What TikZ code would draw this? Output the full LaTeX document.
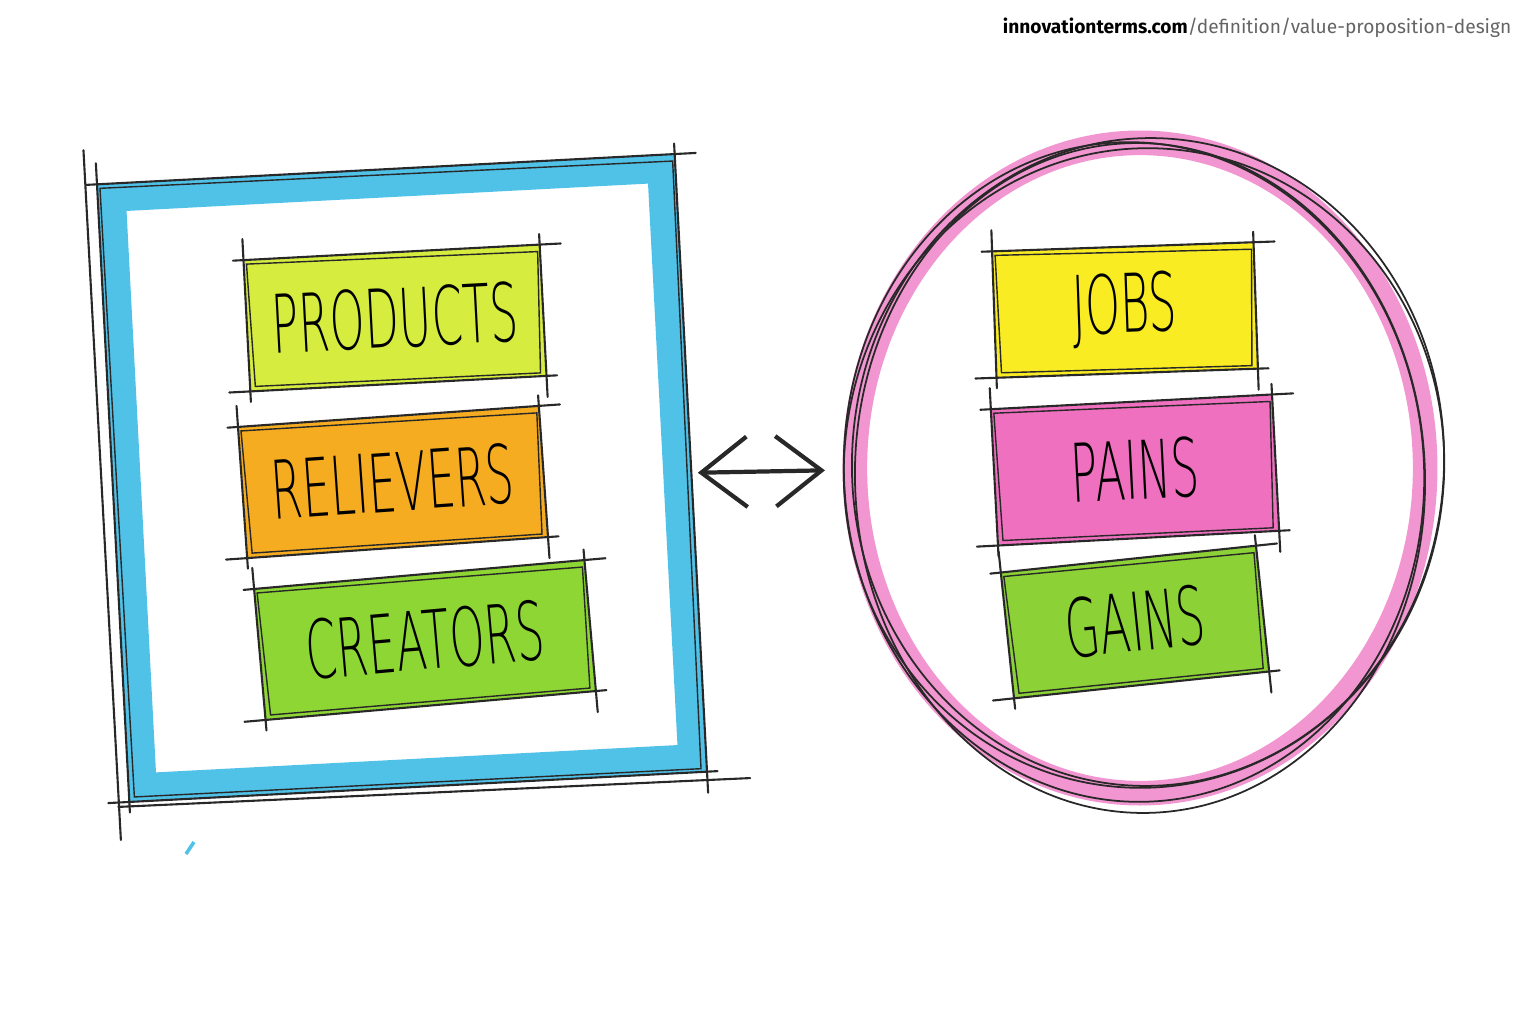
\documentclass[tikz,border=0pt]{standalone}
\usepackage{fontspec}
\setmainfont{Fira Sans}
\newfontfamily\handfont{DejaVu Sans ExtraLight}
\usepackage{graphicx}
\usetikzlibrary{positioning,arrows.meta,shapes.geometric}

\definecolor{frameblue}{RGB}{80,194,232}
\definecolor{ringpink}{RGB}{241,150,208}
\definecolor{prodgreen}{RGB}{214,236,62}
\definecolor{relorange}{RGB}{246,172,32}
\definecolor{creagreen}{RGB}{142,214,52}
\definecolor{jobyellow}{RGB}{250,236,34}
\definecolor{painpink}{RGB}{240,112,192}
\definecolor{gaingreen}{RGB}{140,210,54}
\definecolor{inkgray}{RGB}{40,40,40}
\definecolor{urlgray}{RGB}{100,100,100}

\tikzset{
	ink/.style = {draw=inkgray, line width=.6pt, line cap=round},
	card/.style = {rectangle, inner sep=0pt, minimum height=1.3cm,
		font=\handfont\fontsize{23}{23}\selectfont},
	pointer/.style = {draw=inkgray, line width=1.2pt,
		{Straight Barb[length=13pt,width=20pt]}-{Straight Barb[length=13pt,width=20pt]}}
}

% handwritten looking letters
\newcommand{\hand}[1]{\scalebox{0.55}[1]{#1}}

\newcommand{\sketchbox}[1]{
	%outline with overshooting sides
	\foreach \a/\b in {north west/north east, north east/south east, south east/south west, south west/north west}
		\draw[ink, shorten <=-3pt, shorten >=-6pt] (#1.\a) -- (#1.\b);
	\draw[ink, line width=.4pt] ([shift={(3,4)}]#1.north west) -- ([shift={(-2,7)}]#1.north east)
		-- ([shift={(-6,-3)}]#1.south east) -- ([shift={(5,-5)}]#1.south west) -- cycle;
}

\begin{document}
\begin{tikzpicture}[x=.01cm, y=-.01cm]
	\useasboundingbox (0,0) rectangle (1536,1024);

	% value map
	\node[rectangle, draw=frameblue, line width=8pt, rotate=3,
		minimum width=5.5cm, minimum height=5.9cm] (offer) at (402,478) {};
	\sketchbox{offer}
	\draw[ink, shorten <=-8pt, shorten >=-8pt] ([shift={(-12,-6)}]offer.north west) -- ([shift={(-10,10)}]offer.south west);
	\draw[ink, shorten <=-6pt, shorten >=-10pt] ([shift={(10,4)}]offer.south west) -- ([shift={(8,8)}]offer.south east);
	\draw[frameblue, line width=1pt] (194,842) -- (186,854);

	\node[card, fill=prodgreen, rotate=3, minimum width=2.95cm] (products) at (395,318) {\hand{PRODUCTS}};
	\node[card, fill=relorange, rotate=4, minimum width=3cm] (relievers) at (393,482) {\hand{RELIEVERS}};
	\node[card, fill=creagreen, rotate=5, minimum width=3.3cm] (creators) at (425,640) {\hand{CREATORS}};
	\foreach \bx in {products, relievers, creators}
		{\sketchbox{\bx}}

	% customer profile
	\node[ellipse, draw=ringpink, line width=7pt, minimum width=5.7cm, minimum height=6.5cm] (ring) at (1140,468) {};
	\foreach \dx/\dy/\r/\ang in {-6/4/0/4, 8/-6/6/-3, 0/10/-5/2, 4/0/10/-6}
		\draw[ink, line width=.5pt] ([shift={(\dx,\dy)}]ring.center) ellipse [x radius=290+\r, y radius=330-\r, rotate=\ang];

	\node[card, fill=jobyellow, rotate=2, minimum width=2.6cm, minimum height=1.25cm] (jobs) at (1125,310) {\hand{JOBS}};
	\node[card, fill=painpink, rotate=3, minimum width=2.8cm, minimum height=1.35cm] (pains) at (1135,470) {\hand{PAINS}};
	\node[card, fill=gaingreen, rotate=6, minimum width=2.55cm, minimum height=1.25cm] (gains) at (1135,622) {\hand{GAINS}};
	\foreach \bx in {jobs, pains, gains}
		{\sketchbox{\bx}}

	% fit between both sides
	\draw[pointer, shorten <=2pt, shorten >=5pt] ([shift={(0,10)}]offer.east) -- ([shift={(0,2)}]ring.west);

	\node[anchor=north east, inner sep=0pt, font=\fontsize{5.45}{6}\selectfont] (url) at (1512,17)
		{\textbf{innovationterms.com}\textcolor{urlgray}{/definition/value-proposition-design}};
\end{tikzpicture}
\end{document}
